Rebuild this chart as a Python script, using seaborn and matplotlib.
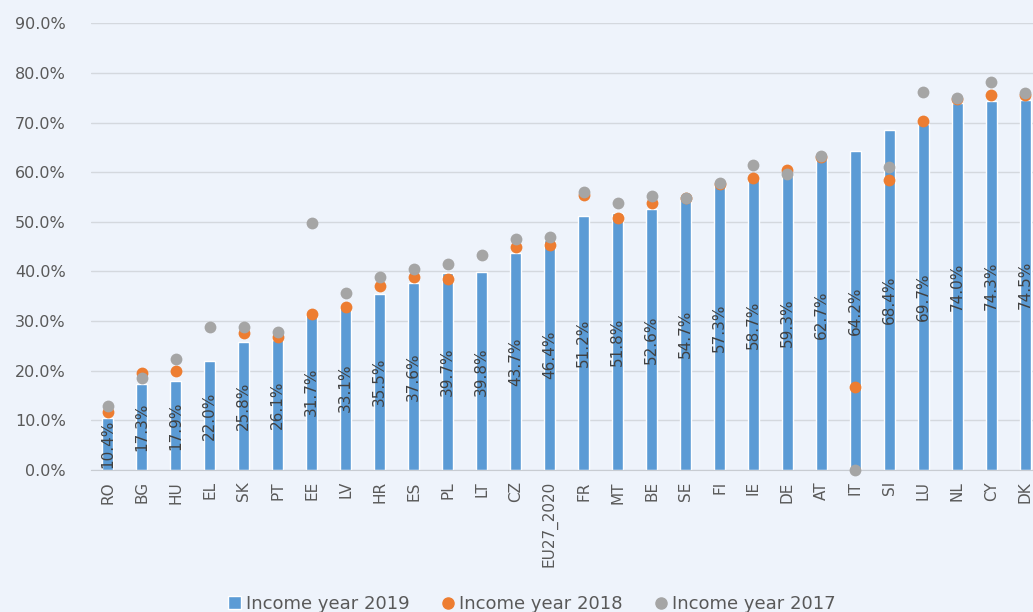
import numpy as np
import pandas as pd
import seaborn as sns
from matplotlib import pyplot as plt
from matplotlib.lines import Line2D
from matplotlib.patches import Patch

countries = ["RO", "BG", "HU", "EL", "SK", "PT", "EE", "LV", "HR", "ES", "PL", "LT", "CZ",
             "EU27_2020", "FR", "MT", "BE", "SE", "FI", "IE", "DE", "AT", "IT", "SI", "LU",
             "NL", "CY", "DK"]
year_2019 = [10.4, 17.3, 17.9, 22.0, 25.8, 26.1, 31.7, 33.1, 35.5, 37.6, 39.7, 39.8, 43.7,
             46.4, 51.2, 51.8, 52.6, 54.7, 57.3, 58.7, 59.3, 62.7, 64.2, 68.4, 69.7,
             74.0, 74.3, 74.5]
year_2018 = [11.7, 19.5, 20.0, np.nan, 27.6, 26.8, 31.4, 32.8, 37.0, 38.9, 38.5, np.nan, 44.9,
             45.3, 55.4, 50.8, 53.7, 54.7, 57.6, 58.8, 60.4, 63.0, 16.7, 58.4, 70.3,
             74.8, 75.5, 75.5]
year_2017 = [12.9, 18.5, 22.3, 28.8, 28.8, 27.8, 49.8, 35.6, 38.9, 40.5, 41.5, 43.3, 46.5,
             46.9, 56.0, 53.8, 55.2, 54.8, 57.8, 61.4, 59.6, 63.2, 0.0, 61.0, 76.1,
             74.9, 78.1, 75.9]

df = pd.DataFrame({"country": countries, "y2019": year_2019,
                   "y2018": year_2018, "y2017": year_2017})

bg = "#eef3fb"
blue = "#5b9bd5"
orange = "#ed7d31"
grey = "#a5a5a5"
txt = "#595959"

sns.set_style("white")
plt.rcParams["font.family"] = ["DejaVu Sans"]

fig = plt.figure(figsize=(10.33, 6.12), dpi=100, facecolor=bg)
ax = fig.add_axes([0.088, 0.232, 0.921, 0.730])
ax.set_facecolor(bg)

sns.barplot(data=df, x="country", y="y2019", color=blue, width=0.32,
            saturation=1, ax=ax, zorder=2)
sns.stripplot(data=df, x="country", y="y2018", color=orange, jitter=False,
              size=8.5, linewidth=0, ax=ax, zorder=3)
sns.stripplot(data=df, x="country", y="y2017", color=grey, jitter=False,
              size=8.5, linewidth=0, ax=ax, zorder=4)
for coll in ax.collections:
    coll.set_clip_on(False)

# value labels sit in the middle of each bar
for i, v in enumerate(year_2019):
    ax.text(i, v / 2, f"{v:.1f}%", rotation=90, ha="center", va="center",
            fontsize=11, color="#404040", zorder=5)

ax.set_ylim(0, 90)
ax.set_xlim(-0.5, len(countries) - 0.5)
ax.set_yticks(np.arange(0, 91, 10))
ax.set_yticklabels([f"{t:.1f}%" for t in np.arange(0, 91, 10)], fontsize=11.5, color=txt)
ax.tick_params(axis="x", rotation=90, labelsize=11, labelcolor=txt, length=0, pad=8)
ax.tick_params(axis="y", length=0, pad=18)
ax.yaxis.grid(True, color="#d4d8de", linewidth=1)
ax.set_axisbelow(True)
ax.set_xlabel("")
ax.set_ylabel("")
for s in ["top", "right", "left"]:
    ax.spines[s].set_visible(False)
ax.spines["bottom"].set_color("#c8ccd2")

handles = [
    Patch(facecolor=blue, label="Income year 2019"),
    Line2D([], [], marker="o", linestyle="", color=orange, markersize=8, label="Income year 2018"),
    Line2D([], [], marker="o", linestyle="", color=grey, markersize=8, label="Income year 2017"),
]
fig.legend(handles=handles, loc="center", bbox_to_anchor=(0.515, 0.013), ncol=3,
           frameon=False, fontsize=13, labelcolor=txt, handlelength=0.7,
           handletextpad=0.25, columnspacing=1.8)

fig.savefig("out.png", dpi=100, facecolor=bg)
